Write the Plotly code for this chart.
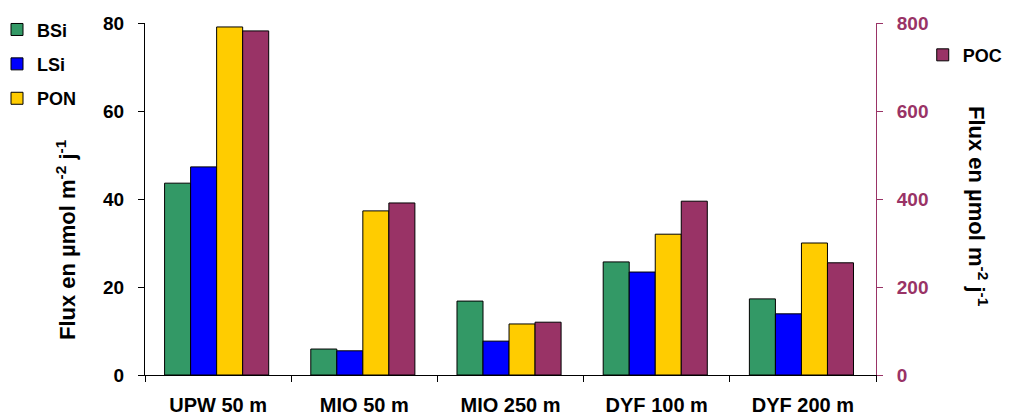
import plotly.graph_objects as go
from plotly.subplots import make_subplots

categories = ["UPW 50 m", "MIO 50 m", "MIO 250 m", "DYF 100 m", "DYF 200 m"]
bsi = [43.6, 5.9, 16.8, 25.7, 17.3]
lsi = [47.3, 5.5, 7.7, 23.4, 13.9]
pon = [79.1, 37.3, 11.6, 32.0, 30.0]
poc = [782, 391, 120, 395, 255]

FONT = "Liberation Sans, Arial, sans-serif"
PURPLE = "#993366"

fig = make_subplots(specs=[[{"secondary_y": True}]])

W = 0.178
series = [
    ("BSi", bsi, "#339966", -2 * W, False, "legend"),
    ("LSi", lsi, "#0000FF", -W, False, "legend"),
    ("PON", pon, "#FFCC00", 0.0, False, "legend"),
    ("POC", poc, PURPLE, W, True, "legend2"),
]
for name, vals, col, off, sec, leg in series:
    fig.add_trace(
        go.Bar(
            x=categories, y=vals, name=name, width=W, offset=off - 0.01,
            marker=dict(color=col, line=dict(color="black", width=1)),
            legend=leg, legendgroup=name,
        ),
        secondary_y=sec,
    )

# page body has an 8px margin: figure starts at (8, 8) in the window
FW, FH = 1003, 409
fig.update_layout(
    width=FW, height=FH,
    margin=dict(l=137, r=135, t=15, b=42, autoexpand=False),
    plot_bgcolor="white", paper_bgcolor="white",
    barmode="overlay",
    font=dict(family=FONT, size=18, color="black"),
    showlegend=True,
    legend=dict(
        xref="paper", yref="container", x=(-11 - 137) / 731, y=0.992,
        xanchor="left", yanchor="top",
        font=dict(family=FONT, size=18, color="black", weight="bold"),
        traceorder="grouped", tracegroupgap=8, bgcolor="rgba(0,0,0,0)",
    ),
    legend2=dict(
        xref="container", yref="container", x=0.912, y=0.93,
        xanchor="left", yanchor="top",
        font=dict(family=FONT, size=18, color="black", weight="bold"),
        bgcolor="rgba(0,0,0,0)",
    ),
)

fig.update_xaxes(
    type="category", range=[-0.5, 4.5], domain=[0, 1],
    showline=True, linecolor="black", linewidth=1,
    ticks="outside", tickson="boundaries", ticklen=6, tickcolor="black",
    tickfont=dict(family=FONT, size=20, color="black", weight="bold"),
    ticklabelstandoff=12,
    showgrid=False,
)
fig.update_yaxes(
    range=[0, 80], dtick=20, showgrid=False, zeroline=False,
    showline=True, linecolor="black", linewidth=1,
    ticks="outside", ticklen=6, tickcolor="black",
    tickfont=dict(family=FONT, size=19, color="black", weight="bold"),
    ticklabelstandoff=10,
    secondary_y=False,
)
fig.update_yaxes(
    range=[0, 800], dtick=200, showgrid=False, zeroline=False,
    showline=True, linecolor=PURPLE, linewidth=1,
    ticks="outside", ticklen=6, tickcolor=PURPLE,
    tickfont=dict(family=FONT, size=19, color=PURPLE, weight="bold"),
    ticklabelstandoff=10,
    secondary_y=True,
)

title = "Flux en µmol m<sup>-2</sup> j<sup>-1</sup>"
# plot area: x 137..868, y 15..367 in figure pixels
fig.add_annotation(
    text=title, xref="paper", yref="paper", x=(58 - 137) / 731, y=1 - (232 - 15) / 352,
    xanchor="center", yanchor="middle",
    textangle=-90, showarrow=False,
    font=dict(family=FONT, size=22, color="black", weight="bold"),
)
fig.add_annotation(
    text=title, xref="paper", yref="paper", x=(970 - 137) / 731, y=1 - (198 - 15) / 352,
    xanchor="center", yanchor="middle",
    textangle=90, showarrow=False,
    font=dict(family=FONT, size=22, color="black", weight="bold"),
)

fig.write_html("out.html")
